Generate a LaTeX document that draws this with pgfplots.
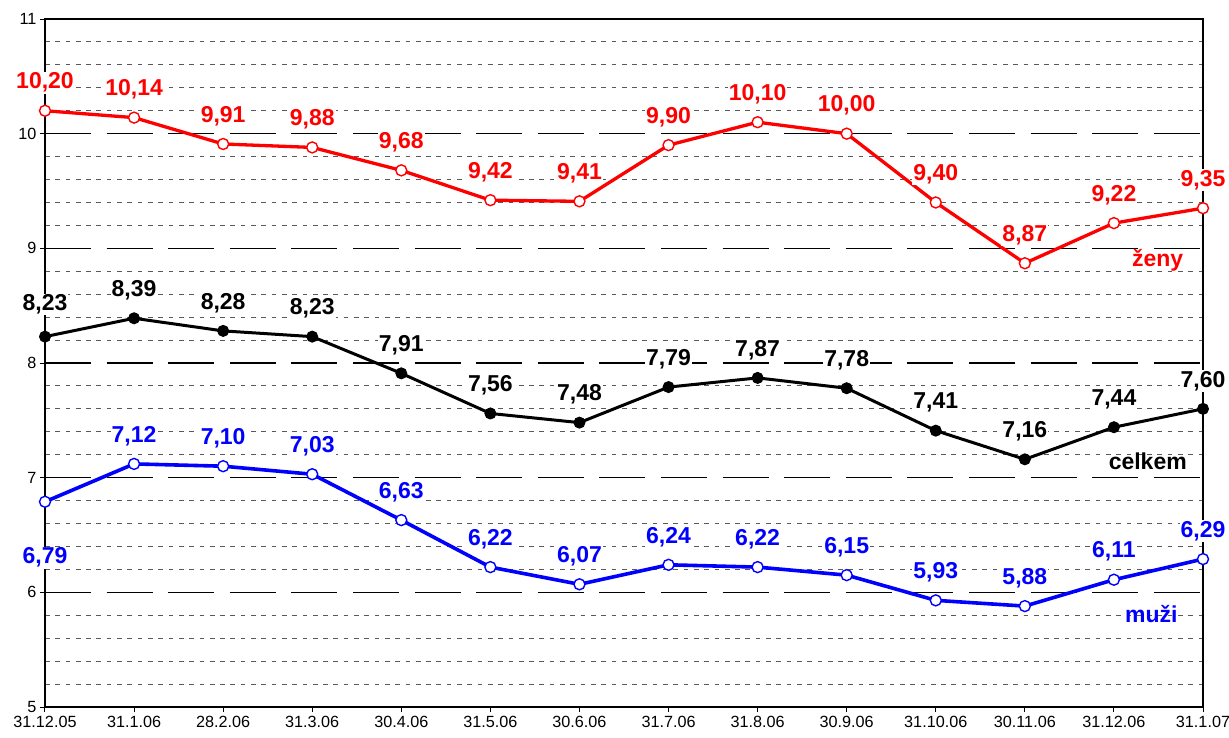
\documentclass[border=0pt]{standalone}
\usepackage{fontspec}
\setmainfont{Liberation Sans}
\usepackage{pgfplots}
\pgfplotsset{compat=1.18}
\usepackage{pgfplotstable}

\pgfplotstableread{
x y lab dy
0 10.20 10,20 28
1 10.14 10,14 28
2 9.91 9,91 28
3 9.88 9,88 28
4 9.68 9,68 28
5 9.42 9,42 28
6 9.41 9,41 28
7 9.90 9,90 28
8 10.10 10,10 28
9 10.00 10,00 28
10 9.40 9,40 28
11 8.87 8,87 28
12 9.22 9,22 28
13 9.35 9,35 28
}\zeny

\pgfplotstableread{
x y lab dy
0 8.23 8,23 32
1 8.39 8,39 28
2 8.28 8,28 28
3 8.23 8,23 28
4 7.91 7,91 28
5 7.56 7,56 28
6 7.48 7,48 28
7 7.79 7,79 28
8 7.87 7,87 28
9 7.78 7,78 28
10 7.41 7,41 28
11 7.16 7,16 28
12 7.44 7,44 28
13 7.60 7,60 28
}\celkem

\pgfplotstableread{
x y lab dy
0 6.79 6,79 -56
1 7.12 7,12 28
2 7.10 7,10 28
3 7.03 7,03 28
4 6.63 6,63 28
5 6.22 6,22 28
6 6.07 6,07 28
7 6.24 6,24 28
8 6.22 6,22 28
9 6.15 6,15 28
10 5.93 5,93 28
11 5.88 5,88 28
12 6.11 6,11 28
13 6.29 6,29 28
}\muzi

\begin{document}
\begin{tikzpicture}
\useasboundingbox[fill=white] (-45pt,-30pt) rectangle (1184pt,707pt);
\begin{axis}[
  at={(0,0)}, anchor=south west,
  scale only axis, width=1158pt, height=688pt,
  xmin=0, xmax=13, ymin=5, ymax=11,
  xtick={0,...,13},
  xticklabels={31.12.05,31.1.06,28.2.06,31.3.06,30.4.06,31.5.06,30.6.06,31.7.06,31.8.06,30.9.06,31.10.06,30.11.06,31.12.06,31.1.07},
  ytick={5,...,11},
  minor y tick num=4,
  ymajorgrids, yminorgrids,
  major grid style={black, dash pattern=on 46pt off 15.6pt, line width=1.1pt},
  minor grid style={black!65, dash pattern=on 4.7pt off 5.6pt, line width=1.1pt},
  tick align=outside, tick pos=left,
  major tick length=5pt, minor tick length=0pt,
  tick style={black, line width=1pt},
  x axis line style={line width=2pt},
  y axis line style={line width=1.3pt},
  ticklabel style={font=\fontsize{16.2}{17}\selectfont},
  xticklabel style={yshift=-0.5pt},
  /pgf/number format/assume math mode=true,
  clip=false,
  nodes near coords,
  point meta=explicit symbolic,
  visualization depends on={\thisrow{dy} \as \dy},
  every node near coord/.append style={anchor=center, yshift=\dy pt, fill=white, inner sep=1pt, font=\bfseries\fontsize{23}{23}\selectfont},
]
\draw[line width=2.3pt] (rel axis cs:0,0) -- (rel axis cs:0,1);
\addplot[red, line width=3.3pt, mark=*, mark size=5.5pt, mark options={fill=white, line width=1.4pt}, every node near coord/.append style={text=red}] table[x=x, y=y, meta=lab] {\zeny};
\addplot[black, line width=3pt, mark=*, mark size=5.5pt, mark options={fill=black, line width=1pt}, every node near coord/.append style={text=black}] table[x=x, y=y, meta=lab] {\celkem};
\addplot[blue, line width=3.6pt, mark=*, mark size=5.5pt, mark options={fill=white, line width=1.4pt}, every node near coord/.append style={text=blue}] table[x=x, y=y, meta=lab] {\muzi};
\node[text=red, font=\bfseries\fontsize{23}{23}\selectfont] at (axis cs:12.49,8.90) {ženy};
\node[text=black, font=\bfseries\fontsize{23}{23}\selectfont] at (axis cs:12.38,7.14) {celkem};
\node[text=blue, font=\bfseries\fontsize{23}{23}\selectfont] at (axis cs:12.42,5.81) {muži};
\end{axis}
\end{tikzpicture}
\end{document}
